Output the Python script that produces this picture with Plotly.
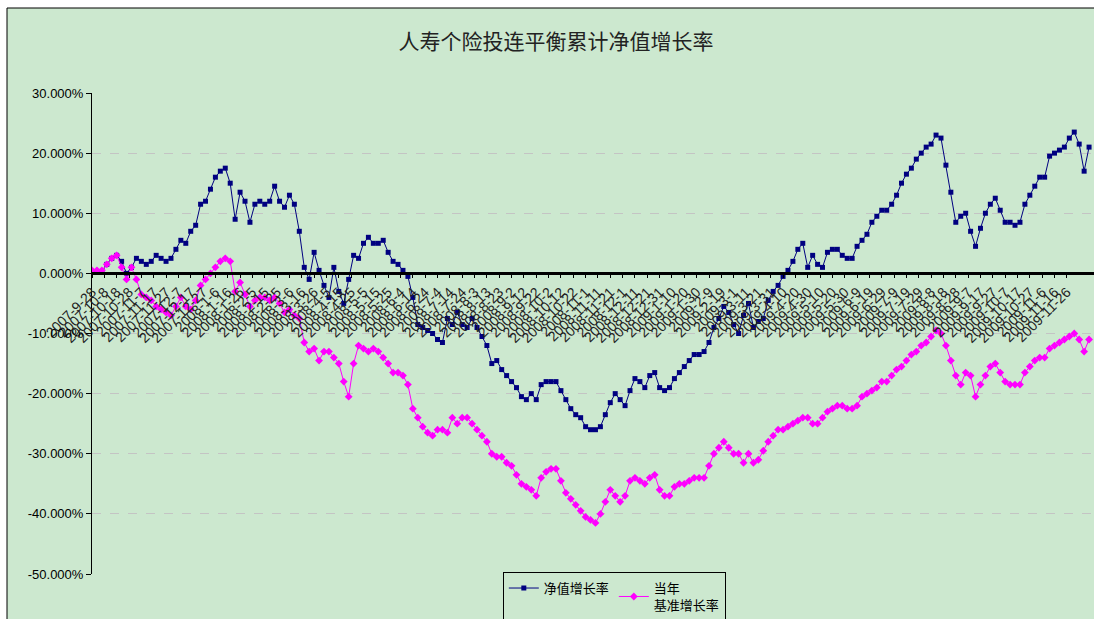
import pandas as pd
import plotly.graph_objects as go

start_date = "2007-09-28"
step = "4D"

nav_growth = [  # 净值增长率 (%)
    0.3, 0.3, 0.3, 1.5, 2.5, 3.0, 2.0, 0.0, 1.0, 2.5,
    2.0, 1.5, 2.0, 3.0, 2.5, 2.0, 2.5, 4.0, 5.5, 5.0,
    7.0, 8.0, 11.5, 12.0, 14.0, 16.0, 17.0, 17.5, 15.0, 9.0,
    13.5, 12.0, 8.5, 11.5, 12.0, 11.5, 12.0, 14.5, 12.0, 11.0,
    13.0, 11.5, 7.0, 1.0, -1.0, 3.5, 0.5, -2.0, -4.0, 1.0,
    -3.0, -5.0, -1.0, 3.0, 2.5, 5.0, 6.0, 5.0, 5.0, 5.5,
    3.5, 2.0, 1.5, 0.5, -0.5, -4.0, -8.5, -9.0, -9.5, -10.0,
    -11.0, -11.5, -7.5, -8.5, -6.5, -8.5, -9.0, -7.5, -9.0, -10.5,
    -12.0, -15.0, -14.5, -16.0, -17.0, -18.0, -19.0, -20.5, -21.0, -20.0,
    -21.0, -18.5, -18.0, -18.0, -18.0, -19.5, -21.0, -22.5, -23.5, -24.0,
    -25.5, -26.0, -26.0, -25.5, -23.5, -21.5, -20.0, -21.0, -22.0, -19.5,
    -17.5, -18.0, -19.0, -17.0, -16.5, -19.0, -19.5, -19.0, -17.5, -16.5,
    -15.5, -14.5, -13.5, -13.5, -13.0, -11.5, -9.0, -7.5, -5.5, -6.5,
    -8.5, -10.0, -7.0, -5.0, -9.0, -8.0, -7.5, -4.5, -3.0, -2.0,
    -0.5, 0.5, 2.0, 4.0, 5.0, 1.0, 3.0, 1.5, 1.0, 3.5,
    4.0, 4.0, 3.0, 2.5, 2.5, 4.5, 5.5, 6.5, 8.5, 9.5,
    10.5, 10.5, 11.5, 13.0, 15.0, 16.5, 17.5, 19.0, 20.0, 21.0,
    21.5, 23.0, 22.5, 18.0, 13.5, 8.5, 9.5, 10.0, 7.0, 4.5,
    7.5, 10.0, 11.5, 12.5, 10.5, 8.5, 8.5, 8.0, 8.5, 11.5,
    13.0, 14.5, 16.0, 16.0, 19.5, 20.0, 20.5, 21.0, 22.5, 23.5,
    21.5, 17.0, 21.0,
]

benchmark_growth = [  # 当年基准增长率 (%)
    0.5, 0.5, 0.5, 1.5, 2.5, 3.0, 1.0, -1.0, 1.0, -1.0,
    -3.5, -4.0, -4.5, -5.5, -6.0, -6.5, -7.0, -5.5, -4.0, -5.5,
    -6.0, -4.5, -2.0, -1.0, 0.0, 1.0, 2.0, 2.5, 2.0, -3.0,
    -1.5, -3.5, -5.5, -4.5, -4.0, -4.0, -4.5, -4.0, -5.0, -6.5,
    -6.0, -7.0, -7.5, -11.5, -13.0, -12.5, -14.5, -13.0, -13.0, -14.0,
    -15.0, -18.0, -20.5, -15.0, -12.0, -12.5, -13.0, -12.5, -13.0, -14.0,
    -15.0, -16.5, -16.5, -17.0, -18.5, -22.5, -24.0, -25.5, -26.5, -27.0,
    -26.0, -26.0, -26.5, -24.0, -25.0, -24.0, -24.0, -25.0, -26.0, -27.0,
    -28.0, -30.0, -30.5, -30.5, -31.5, -32.0, -33.5, -35.0, -35.5, -36.0,
    -37.0, -34.0, -33.0, -32.5, -32.5, -34.5, -36.5, -37.5, -38.5, -39.5,
    -40.5, -41.0, -41.5, -40.0, -38.0, -36.0, -37.0, -38.0, -37.0, -34.5,
    -34.0, -34.5, -35.0, -34.0, -33.5, -36.0, -37.0, -37.0, -35.5, -35.0,
    -35.0, -34.5, -34.0, -34.0, -34.0, -32.0, -30.0, -29.0, -28.0, -29.0,
    -30.0, -30.0, -31.5, -30.0, -31.5, -31.0, -29.5, -28.0, -27.0, -26.0,
    -26.0, -25.5, -25.0, -24.5, -24.0, -24.0, -25.0, -25.0, -24.0, -23.0,
    -22.5, -22.0, -22.0, -22.5, -22.5, -22.0, -20.5, -20.0, -19.5, -19.0,
    -18.0, -18.0, -17.0, -16.0, -15.5, -14.5, -13.5, -13.0, -12.0, -11.5,
    -10.5, -9.5, -10.0, -12.0, -14.5, -17.0, -18.5, -16.5, -17.0, -20.5,
    -18.5, -17.0, -15.5, -15.0, -16.5, -18.0, -18.5, -18.5, -18.5, -16.5,
    -15.5, -14.5, -14.0, -14.0, -12.5, -12.0, -11.5, -11.0, -10.5, -10.0,
    -11.0, -13.0, -11.0,
]

tick_dates = [
    "2007-9-28", "2007-10-8", "2007-10-18", "2007-10-28", "2007-11-7", "2007-11-17",
    "2007-11-27", "2007-12-7", "2007-12-17", "2007-12-27", "2008-1-6", "2008-1-16",
    "2008-1-26", "2008-2-5", "2008-2-15", "2008-2-25", "2008-3-6", "2008-3-16",
    "2008-3-26", "2008-4-5", "2008-4-15", "2008-4-25", "2008-5-5", "2008-5-15",
    "2008-5-25", "2008-6-4", "2008-6-14", "2008-6-24", "2008-7-4", "2008-7-14",
    "2008-7-24", "2008-8-3", "2008-8-13", "2008-8-23", "2008-9-2", "2008-9-12",
    "2008-9-22", "2008-10-2", "2008-10-12", "2008-10-22", "2008-11-1", "2008-11-11",
    "2008-11-21", "2008-12-1", "2008-12-11", "2008-12-21", "2008-12-31", "2009-1-10",
    "2009-1-20", "2009-1-30", "2009-2-9", "2009-2-19", "2009-3-1", "2009-3-11",
    "2009-3-21", "2009-3-31", "2009-4-10", "2009-4-20", "2009-4-30", "2009-5-10",
    "2009-5-20", "2009-5-30", "2009-6-9", "2009-6-19", "2009-6-29", "2009-7-9",
    "2009-7-19", "2009-7-29", "2009-8-8", "2009-8-18", "2009-8-28", "2009-9-7",
    "2009-9-17", "2009-9-27", "2009-10-7", "2009-10-17", "2009-10-27", "2009-11-6",
    "2009-11-16", "2009-11-26",
]

y_ticks = [30, 20, 10, 0, -10, -20, -30, -40, -50]

# ---- figure ----
dates = pd.date_range(start=start_date, periods=len(nav_growth), freq=step)
tick_vals = pd.to_datetime(tick_dates, format="%Y-%m-%d")

GREEN = "rgb(204,232,207)"
fig = go.Figure()
fig.add_trace(go.Scatter(
    x=dates, y=nav_growth, name="净值增长率", mode="lines+markers",
    line=dict(color="#000080", width=1),
    marker=dict(symbol="square", size=5, color="#000080"),
))
fig.add_trace(go.Scatter(
    x=dates, y=benchmark_growth, name="当年<br>基准增长率", mode="lines+markers",
    line=dict(color="#FF00FF", width=1),
    marker=dict(symbol="diamond", size=6, color="#FF00FF"),
))

fig.update_layout(
    width=1094, height=619,
    margin=dict(l=92, r=0, t=93, b=45, autoexpand=False),
    paper_bgcolor="white",
    plot_bgcolor="rgba(0,0,0,0)",
    font=dict(family="Arial, Liberation Sans, Noto Sans CJK SC", color="black"),
    title=dict(text="人寿个险投连平衡累计净值增长率", x=0.463, xref="paper", xanchor="center",
               y=1 - 42 / 619, yref="container", yanchor="middle",
               font=dict(family="Noto Sans CJK SC", size=21, color="#222")),
    showlegend=True,
    legend=dict(orientation="h", x=0.41, y=0.004, xanchor="left", yanchor="top",
                bgcolor=GREEN, bordercolor="black", borderwidth=1,
                font=dict(family="Noto Sans CJK SC", size=13, color="black"),
                tracegroupgap=0, itemwidth=30),
    shapes=[dict(type="rect", xref="paper", yref="paper",
                 x0=-85 / 1002, x1=1.05, y0=-0.2, y1=566 / 481,
                 fillcolor=GREEN, line=dict(color="black", width=1), layer="below")],
)
fig.update_yaxes(
    range=[-50, 30], tickvals=y_ticks, ticktext=[f"{v:.3f}%" for v in y_ticks],
    showgrid=True, gridcolor="#c4c4c4", griddash="dash", gridwidth=1,
    showline=True, linecolor="black", linewidth=1,
    ticks="outside", ticklen=5, tickcolor="black",
    tickfont=dict(family="Arial, Liberation Sans", size=13, color="black"),
    zeroline=False, domain=[0, 1],
)
fig.update_xaxes(
    type="date",
    range=[pd.Timestamp("2007-09-28"), pd.Timestamp("2009-12-18")],
    anchor="free", position=0.625,
    tickmode="array", tickvals=tick_vals, ticktext=tick_dates, tickangle=-45,
    tickfont=dict(family="Arial, Liberation Sans", size=14, color="#222"),
    showline=True, linecolor="black", linewidth=3,
    ticks="outside", ticklen=3, tickcolor="black",
    showgrid=False, zeroline=False,
)

fig.write_html("out.html")
